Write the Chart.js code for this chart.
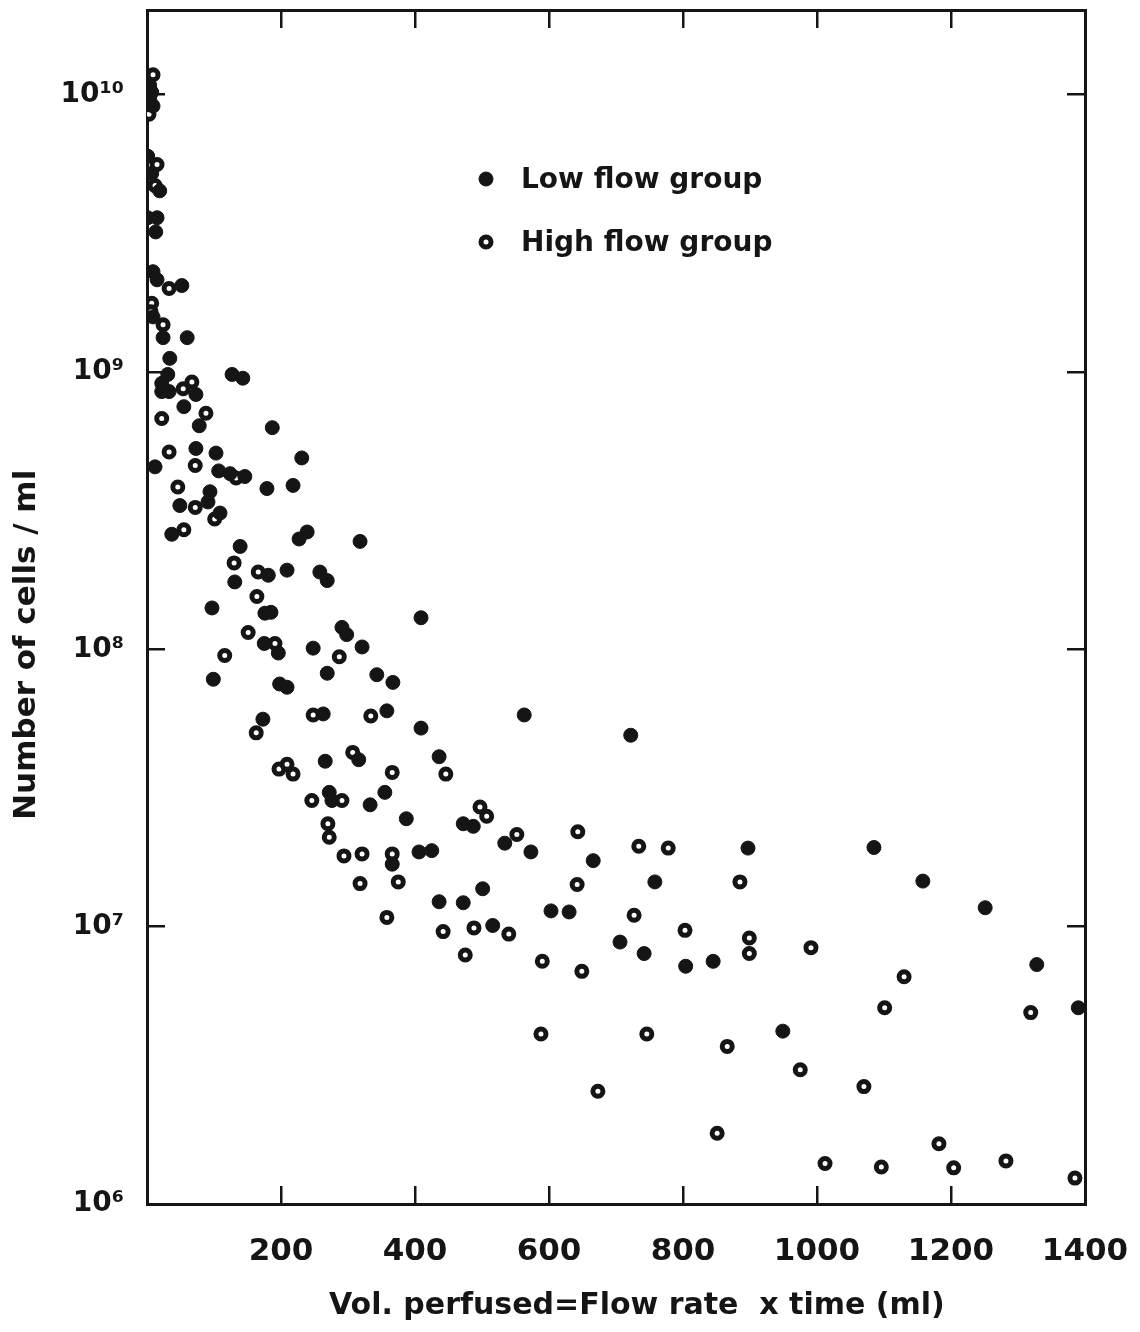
<!DOCTYPE html>
<html>
<head>
<meta charset="utf-8">
<script src="https://cdn.jsdelivr.net/npm/chart.js@4.4.1/dist/chart.umd.min.js"></script>
<style>
  html, body { margin: 0; padding: 0; background: #ffffff; }
  #wrap { width: 1140px; height: 1332px; }
</style>
</head>
<body>
<div id="wrap"><canvas id="cells" width="1140" height="1332"></canvas></div>
<script>
// Low flow group (filled dots)
var lowX = [4, 7, 4, 9,
    1, 7, 19, 1, 15, 13, 9, 15, 52, 9, 24, 60, 34,
    31, 22, 22, 33, 73, 127, 143,
    55, 78, 187,
    73, 103, 12, 107, 124, 146, 231,
    179, 218, 94, 91, 49, 109,
    37, 239, 227, 318, 139,
    131, 181, 209, 258, 269,
    97, 176, 185, 409,
    175, 196, 248, 291, 298, 321,
    99, 198, 209, 269, 343, 367,
    263, 358, 173, 409,
    316, 266, 436,
    272, 276, 333, 355, 387, 472, 487,
    366, 406, 425,
    436, 472,
    563, 722, 534, 573, 666, 758, 501, 516, 603, 630,
    706, 742, 804, 845,
    897, 1085, 1158, 1251, 1328, 1390, 949];
var lowY = [1.08e10, 1.02e10, 9.6e9, 9.1e9,
    6.0e9, 5.2e9, 4.5e9, 3.6e9, 3.6e9, 3.2e9, 2.3e9, 2.15e9, 2.05e9, 1.58e9, 1.33e9, 1.33e9, 1.12e9,
    9.8e8, 9.1e8, 8.5e8, 8.5e8, 8.3e8, 9.8e8, 9.5e8,
    7.5e8, 6.4e8, 6.3e8,
    5.3e8, 5.1e8, 4.55e8, 4.4e8, 4.3e8, 4.2e8, 4.9e8,
    3.8e8, 3.9e8, 3.7e8, 3.4e8, 3.3e8, 3.1e8,
    2.6e8, 2.65e8, 2.5e8, 2.45e8, 2.35e8,
    1.75e8, 1.85e8, 1.93e8, 1.9e8, 1.77e8,
    1.41e8, 1.35e8, 1.36e8, 1.3e8,
    1.05e8, 9.7e7, 1.01e8, 1.2e8, 1.13e8, 1.02e8,
    7.8e7, 7.5e7, 7.3e7, 8.2e7, 8.1e7, 7.6e7,
    5.85e7, 6.0e7, 5.6e7, 5.2e7,
    4.0e7, 3.95e7, 4.1e7,
    3.05e7, 2.85e7, 2.75e7, 3.05e7, 2.45e7, 2.35e7, 2.3e7,
    1.68e7, 1.86e7, 1.88e7,
    1.23e7, 1.22e7,
    5.8e7, 4.9e7, 2.0e7, 1.86e7, 1.73e7, 1.45e7, 1.37e7, 1.01e7, 1.14e7, 1.13e7,
    8.8e6, 8.0e6, 7.2e6, 7.5e6,
    1.92e7, 1.93e7, 1.46e7, 1.17e7, 7.3e6, 5.1e6, 4.2e6];

// High flow group (open dots)
var highX = [9, 3, 15, 12, 33, 7, 6, 24,
    54, 67, 88, 22, 33, 72, 133, 46, 72, 101, 55,
    130, 166, 164, 151, 191,
    116, 287, 248, 334, 163, 307, 446, 366, 197, 209, 218,
    291, 246, 270, 272, 294, 321, 366, 318, 375,
    497, 507, 552, 643, 734, 778, 642, 358,
    442, 488, 540, 475, 727, 803, 590, 649,
    885, 899, 899, 991, 1130, 1101, 1319,
    588, 746, 866, 975, 1070, 673,
    851, 1182, 1012, 1096, 1204, 1282, 1385];
var highY = [1.18e10, 8.5e9, 5.6e9, 4.7e9, 2.0e9, 1.77e9, 1.65e9, 1.48e9,
    8.7e8, 9.2e8, 7.1e8, 6.8e8, 5.15e8, 4.6e8, 4.15e8, 3.85e8, 3.25e8, 2.95e8, 2.7e8,
    2.05e8, 1.9e8, 1.55e8, 1.15e8, 1.05e8,
    9.5e7, 9.4e7, 5.8e7, 5.75e7, 5.0e7, 4.25e7, 3.55e7, 3.6e7, 3.7e7, 3.85e7, 3.55e7,
    2.85e7, 2.85e7, 2.35e7, 2.1e7, 1.8e7, 1.83e7, 1.83e7, 1.43e7, 1.45e7,
    2.7e7, 2.5e7, 2.15e7, 2.2e7, 1.95e7, 1.92e7, 1.42e7, 1.08e7,
    9.6e6, 9.9e6, 9.4e6, 7.9e6, 1.1e7, 9.7e6, 7.5e6, 6.9e6,
    1.45e7, 9.1e6, 8.0e6, 8.4e6, 6.6e6, 5.1e6, 4.9e6,
    4.1e6, 4.1e6, 3.7e6, 3.05e6, 2.65e6, 2.55e6,
    1.8e6, 1.65e6, 1.4e6, 1.36e6, 1.35e6, 1.43e6, 1.24e6];

var seriesNames = ['Low flow group', 'High flow group'];
var yTicks = [1e6, 1e7, 1e8, 1e9, 1e10];
var yTickLabels = ['10\u2076', '10\u2077', '10\u2078', '10\u2079', '10\u00b9\u2070'];
// the spaces nudge the titles off-centre, as on the plate
var xTitle = '    Vol. perfused=Flow rate  x time (ml)';
var yTitle = 'Number of cells / ml       ';

var ink = '#151515';
var face = '"DejaVu Sans", sans-serif';

var toPoints = function (xs, ys) {
    return xs.map(function (x, i) { return { x: x, y: ys[i] }; });
};

// inward tick marks like the original plate
var gridOpts = {
    drawOnChartArea: false,
    drawTicks: true,
    tickLength: -18,
    lineWidth: 2.5,
    color: ink
};
var borderOpts = { display: true, width: 3, color: ink };

// fixed box sizes, and no extra room asked for the end labels
var sizeTo = function (w, h) {
    return function (s) {
        if (w !== null) s.width = w;
        if (h !== null) s.height = h;
        s.paddingLeft = 0;
        s.paddingRight = 0;
        s.paddingTop = 0;
        s.paddingBottom = 0;
    };
};

var insetLegend = {
    id: 'insetLegend',
    afterDatasetsDraw: function (chart) {
        var ctx = chart.ctx;
        ctx.save();
        chart.data.datasets.forEach(function (ds, i) {
            var cy = 179 + i * 63;
            ctx.beginPath();
            ctx.arc(486, cy, ds.pointRadius, 0, Math.PI * 2);
            ctx.fillStyle = ds.pointBackgroundColor;
            ctx.fill();
            ctx.lineWidth = ds.pointBorderWidth;
            ctx.strokeStyle = ds.pointBorderColor;
            ctx.stroke();
            ctx.fillStyle = ink;
            ctx.font = 'bold 28px ' + face;
            ctx.textBaseline = 'middle';
            ctx.fillText(ds.label, 521, cy + 2);
        });
        ctx.restore();
    }
};

var ctx = document.getElementById('cells').getContext('2d');
var cellsChart = new Chart(ctx, {
    type: 'scatter',
    data: {
        datasets: [{
            label: seriesNames[0],
            data: toPoints(lowX, lowY),
            pointRadius: 7,
            pointBorderWidth: 1,
            pointBackgroundColor: ink,
            pointBorderColor: ink
        }, {
            label: seriesNames[1],
            data: toPoints(highX, highY),
            pointRadius: 5,
            pointBorderWidth: 5,
            pointBackgroundColor: '#ffffff',
            pointBorderColor: ink
        }]
    },
    options: {
        responsive: false,
        animation: false,
        layout: { padding: { top: 10, right: 55, left: 0, bottom: 0 } },
        plugins: {
            legend: { display: false },
            tooltip: { enabled: false }
        },
        scales: {
            x: {
                type: 'linear',
                position: 'bottom',
                min: 0,
                max: 1400,
                grid: gridOpts,
                border: borderOpts,
                ticks: {
                    stepSize: 200,
                    autoSkip: false,
                    maxRotation: 0,
                    padding: 47,
                    color: ink,
                    font: { family: face, size: 31, weight: 'bold' },
                    callback: function (v) { return v === 0 ? '' : v; }
                },
                title: {
                    display: true,
                    text: xTitle,
                    color: ink,
                    padding: { top: 0, bottom: 8 },
                    font: { family: face, size: 30, weight: 'bold' }
                },
                afterFit: sizeTo(null, 128)
            },
            x2: {
                type: 'linear',
                position: 'top',
                min: 0,
                max: 1400,
                grid: gridOpts,
                border: borderOpts,
                ticks: { stepSize: 200, display: false },
                afterFit: sizeTo(null, 0)
            },
            y: {
                type: 'logarithmic',
                position: 'left',
                min: 1e6,
                max: 2.02e10,
                grid: gridOpts,
                border: borderOpts,
                afterBuildTicks: function (s) {
                    s.ticks = yTicks.map(function (v) { return { value: v }; });
                },
                ticks: {
                    padding: 41,
                    color: ink,
                    font: { family: face, size: 28, weight: 'bold' },
                    callback: function (v, i) { return yTickLabels[i]; }
                },
                title: {
                    display: true,
                    text: yTitle,
                    color: ink,
                    padding: { top: 8, bottom: 0 },
                    font: { family: face, size: 31, weight: 'bold' }
                },
                afterFit: sizeTo(147, null)
            },
            y2: {
                type: 'logarithmic',
                position: 'right',
                min: 1e6,
                max: 2.02e10,
                grid: gridOpts,
                border: borderOpts,
                afterBuildTicks: function (s) {
                    s.ticks = yTicks.map(function (v) { return { value: v }; });
                },
                ticks: { display: false },
                afterFit: sizeTo(0, null)
            }
        }
    },
    plugins: [insetLegend]
});
</script>
</body>
</html>
